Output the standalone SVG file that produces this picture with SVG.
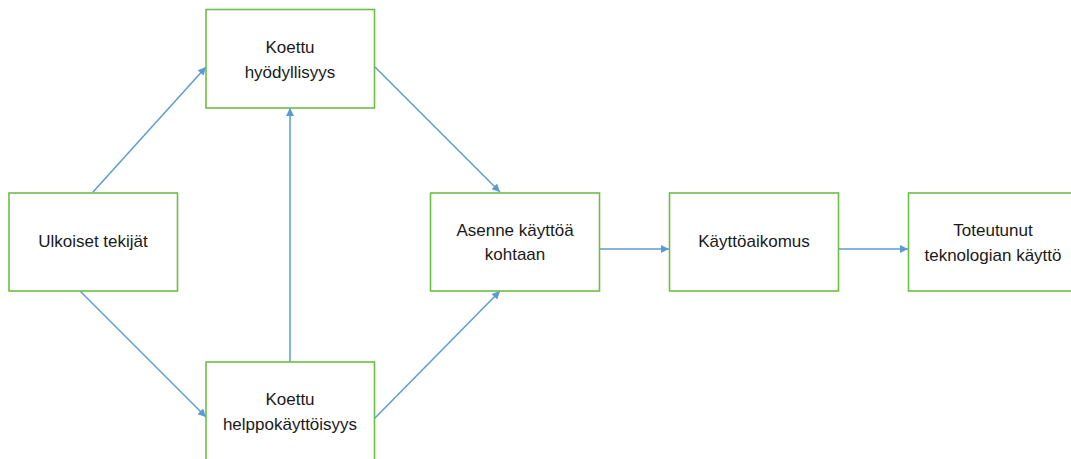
<svg xmlns="http://www.w3.org/2000/svg" width="1071" height="459" viewBox="0 0 1071 459">
<style>
.box{fill:#fff;stroke:#6DBE45;stroke-width:1.6}
.t{font-family:"Liberation Sans",Arial,sans-serif;font-size:17px;fill:#1a1a1a;text-anchor:middle}
.c{stroke:#5B9BD5;stroke-width:1.5;fill:none;marker-end:url(#ah)}
</style>
<defs>
<marker id="ah" viewBox="0 0 10 10" refX="10" refY="5" markerWidth="9" markerHeight="8" orient="auto" markerUnits="userSpaceOnUse">
<path d="M0,0 L10,5 L0,10 z" fill="#5B9BD5"/>
</marker>
</defs>
<rect width="1071" height="459" fill="#fff"/>
<g id="connectors">
<line class="c" x1="93" y1="192" x2="206" y2="67"/>
<line class="c" x1="80" y1="291" x2="206" y2="417"/>
<line class="c" x1="290" y1="362" x2="290" y2="108"/>
<line class="c" x1="375" y1="67" x2="500" y2="192"/>
<line class="c" x1="375" y1="418" x2="500" y2="291"/>
<line class="c" x1="600" y1="249" x2="669" y2="249"/>
<line class="c" x1="838" y1="249" x2="908" y2="249"/>
</g>
<g id="hyodyllisyys">
<rect class="box" x="206" y="9.5" width="168.5" height="98.5"/>
<text class="t" x="290" y="53">Koettu</text>
<text class="t" x="290" y="78">hyödyllisyys</text>
</g>
<g id="ulkoiset">
<rect class="box" x="9" y="193" width="168.5" height="98"/>
<text class="t" x="93" y="247">Ulkoiset tekijät</text>
</g>
<g id="helppokayttoisyys">
<rect class="box" x="206" y="362" width="168.5" height="99"/>
<text class="t" x="290" y="405">Koettu</text>
<text class="t" x="290" y="430">helppokäyttöisyys</text>
</g>
<g id="asenne">
<rect class="box" x="430.5" y="193" width="169" height="98"/>
<text class="t" x="515" y="236">Asenne käyttöä</text>
<text class="t" x="515" y="260">kohtaan</text>
</g>
<g id="kayttoaikomus">
<rect class="box" x="669.5" y="193" width="169" height="98"/>
<text class="t" x="754" y="247">Käyttöaikomus</text>
</g>
<g id="toteutunut">
<rect class="box" x="908.5" y="193" width="169" height="98"/>
<text class="t" x="993" y="236">Toteutunut</text>
<text class="t" x="993" y="261">teknologian käyttö</text>
</g>
</svg>
